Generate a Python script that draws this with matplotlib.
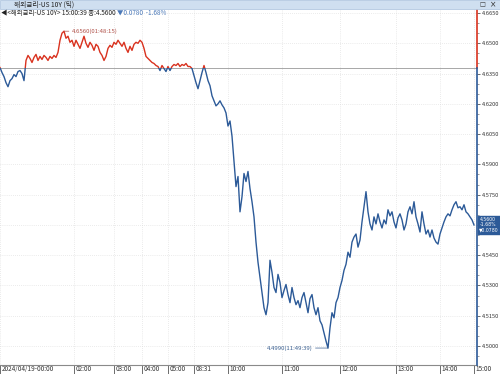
import matplotlib
matplotlib.use("Agg")
import matplotlib.pyplot as plt
from matplotlib.patches import Rectangle
from matplotlib.ticker import MultipleLocator
import matplotlib.transforms as mtransforms

plt.rcParams['font.family'] = ['Noto Sans CJK KR', 'DejaVu Sans']

# ---- data (tick series, evenly spaced samples) ----
prices = [
    4.6380, 4.6355, 4.6335, 4.6305, 4.6285, 4.6315, 4.6325, 4.6345, 4.6335, 4.6360,
    4.6365, 4.6350, 4.6315, 4.6415, 4.6440, 4.6425, 4.6405, 4.6430, 4.6445, 4.6415,
    4.6435, 4.6420, 4.6440, 4.6430, 4.6415, 4.6435, 4.6425, 4.6440, 4.6430, 4.6455,
    4.6515, 4.6550, 4.6560, 4.6525, 4.6535, 4.6505, 4.6515, 4.6485, 4.6515, 4.6495,
    4.6475, 4.6505, 4.6535, 4.6500, 4.6480, 4.6505, 4.6490, 4.6465, 4.6495, 4.6485,
    4.6455, 4.6440, 4.6415, 4.6435, 4.6475, 4.6490, 4.6480, 4.6505, 4.6495, 4.6515,
    4.6500, 4.6485, 4.6505, 4.6475, 4.6455, 4.6485, 4.6465, 4.6495, 4.6505, 4.6500,
    4.6515, 4.6505, 4.6475, 4.6435, 4.6425, 4.6415, 4.6405, 4.6400, 4.6390, 4.6385,
    4.6365, 4.6390, 4.6375, 4.6360, 4.6385, 4.6365, 4.6385, 4.6395, 4.6390, 4.6400,
    4.6385, 4.6395, 4.6390, 4.6400, 4.6385, 4.6385, 4.6375, 4.6340, 4.6305, 4.6275,
    4.6315, 4.6355, 4.6390, 4.6355, 4.6315, 4.6290, 4.6240, 4.6215, 4.6190, 4.6200,
    4.6215, 4.6195, 4.6180, 4.6155, 4.6090, 4.6115, 4.6040, 4.5915, 4.5790, 4.5840,
    4.5665, 4.5740, 4.5855, 4.5815, 4.5865, 4.5780, 4.5715, 4.5640, 4.5515, 4.5415,
    4.5340, 4.5265, 4.5190, 4.5155, 4.5215, 4.5425, 4.5365, 4.5290, 4.5265, 4.5355,
    4.5315, 4.5240, 4.5275, 4.5305, 4.5255, 4.5215, 4.5290, 4.5240, 4.5205, 4.5225,
    4.5190, 4.5240, 4.5265, 4.5215, 4.5165, 4.5235, 4.5255, 4.5190, 4.5155, 4.5190,
    4.5125, 4.5105, 4.5065, 4.5025, 4.4990, 4.5090, 4.5165, 4.5140, 4.5215, 4.5240,
    4.5290, 4.5325, 4.5375, 4.5405, 4.5465, 4.5440, 4.5515, 4.5540, 4.5555, 4.5490,
    4.5525, 4.5615, 4.5690, 4.5765, 4.5665, 4.5605, 4.5575, 4.5640, 4.5605, 4.5655,
    4.5615, 4.5585, 4.5625, 4.5605, 4.5675, 4.5645, 4.5665, 4.5615, 4.5585, 4.5635,
    4.5655, 4.5625, 4.5575, 4.5605, 4.5665, 4.5690, 4.5655, 4.5715, 4.5640, 4.5605,
    4.5565, 4.5665, 4.5605, 4.5555, 4.5575, 4.5540, 4.5575, 4.5535, 4.5515, 4.5505,
    4.5555, 4.5585, 4.5615, 4.5640, 4.5655, 4.5645, 4.5675, 4.5700, 4.5715, 4.5685,
    4.5690, 4.5675, 4.5700, 4.5665, 4.5655, 4.5640, 4.5625, 4.5600,
]
prev_close = 4.6380
last_price = 4.5600
change = -0.0780
change_pct = -1.68
high_label = "4.6560(01:48:15)"
low_label = "4.4990(11:49:39)"

tick_idx = [0, 37, 57, 71, 84, 97, 114, 141, 170, 198, 220, 237]
tick_labels = ["2024/04/19-00:00", "02:00", "03:00", "04:00", "05:00", "08:31",
               "10:00", "11:00", "12:00", "13:00", "14:00", "15:00"]
y_ticks = [4.6650, 4.6500, 4.6350, 4.6200, 4.6050, 4.5900, 4.5750,
           4.5600, 4.5450, 4.5300, 4.5150, 4.5000]

RED = "#d9321f"
BLUE = "#2c5a98"

W, H = 500, 374
fig = plt.figure(figsize=(W / 100, H / 100), dpi=100)
fig.patch.set_facecolor("white")

ax_top, ax_bot, ax_right = 10, 365, 477
ax = fig.add_axes([0.0, 1 - ax_bot / H, ax_right / W, (ax_bot - ax_top) / H])
ax.set_facecolor("white")

ymin, ymax = 4.4906, 4.6665
xmax = 238.5
ax.set_xlim(0, xmax)
ax.set_ylim(ymin, ymax)

xs = list(range(len(prices)))

# line above prev close red, below blue (via clipping)
l_red, = ax.plot(xs, prices, color=RED, lw=1.0, zorder=3)
l_blue, = ax.plot(xs, prices, color=BLUE, lw=1.0, zorder=3)
r_up = Rectangle((0, prev_close), xmax, ymax - prev_close, transform=ax.transData,
                 facecolor="none", edgecolor="none")
r_dn = Rectangle((0, ymin), xmax, prev_close - ymin, transform=ax.transData,
                 facecolor="none", edgecolor="none")
l_red.set_clip_path(r_up)
l_blue.set_clip_path(r_dn)

# previous close dotted line
ax.axhline(prev_close, color="#333333", lw=0.6, ls=(0, (1.2, 1.2)), zorder=2)

# right axis line: red above, blue below
frac = (prev_close - ymin) / (ymax - ymin)
ax.axvline(xmax, ymin=frac, ymax=1, color=RED, lw=1.2, zorder=4, clip_on=False)
ax.axvline(xmax, ymin=0, ymax=frac, color=BLUE, lw=1.2, zorder=4, clip_on=False)

# spines
for s in ["top", "left", "right"]:
    ax.spines[s].set_visible(False)
ax.spines["bottom"].set_color("#8a8a8a")
ax.spines["bottom"].set_linewidth(0.8)

# y axis on the right (the 4.5600 label is hidden behind the last-price box)
ax.yaxis.tick_right()
ax.set_yticks(y_ticks)
ax.set_yticklabels(["" if abs(v - last_price) < 1e-9 else f"{v:.4f}" for v in y_ticks])
ax.yaxis.set_minor_locator(MultipleLocator(0.005))
ax.tick_params(axis="y", which="major", length=2.5, width=0.5, pad=0.8,
               labelsize=4.1, colors="#333333", direction="out")
ax.tick_params(axis="y", which="minor", length=1.5, width=0.4, colors="#555555")

# x axis
ax.set_xticks(tick_idx)
ax.set_xticklabels(tick_labels)
ax.tick_params(axis="x", which="major", length=6.5, width=0.5, pad=-6.3,
               labelsize=4.6, colors="#333333", direction="out")
off = mtransforms.ScaledTranslation(1.5 / 100, 0, fig.dpi_scale_trans)
for lab in ax.get_xticklabels():
    lab.set_horizontalalignment("left")
    lab.set_transform(lab.get_transform() + off)

ax.grid(True, which="major", color="#d8d8d8", lw=0.5, ls=(0, (1, 2)))
ax.set_axisbelow(True)

# high / low annotations
i_hi = prices.index(max(prices))
i_lo = prices.index(min(prices))
ax.annotate(high_label, xy=(i_hi, prices[i_hi]), xytext=(5.5, 0), textcoords="offset points",
            fontsize=4.3, color="#b05048", va="center", ha="left",
            arrowprops=dict(arrowstyle="-", color="#b05048", lw=0.5, shrinkA=0, shrinkB=0))
ax.annotate(low_label, xy=(i_lo, prices[i_lo]), xytext=(-11, 0), textcoords="offset points",
            fontsize=4.3, color="#3a5f90", va="center", ha="right",
            arrowprops=dict(arrowstyle="-", color="#3a5f90", lw=0.5, shrinkA=0, shrinkB=0))

# last price box
trans = mtransforms.blended_transform_factory(ax.transAxes, ax.transData)
ax.text(1.005, last_price, f"{last_price:.4f}\n{change_pct:.2f}%\n▼{abs(change):.4f}",
        transform=trans, fontsize=3.3, color="white", va="center", ha="left",
        linespacing=1.05, family=["DejaVu Sans"],
        bbox=dict(boxstyle="square,pad=0.3", fc=BLUE, ec=BLUE),
        clip_on=False, zorder=6)

# header bar
fig.patches.append(Rectangle((0, 1 - 9 / H), 1, 9 / H, transform=fig.transFigure,
                             facecolor="#cfdff0", edgecolor="#a9c1dc", lw=0.5, zorder=0))
fig.text(14 / W, 1 - 4.5 / H, "해외금리-US 10Y (틱)", fontsize=4.8, color="#222222",
         va="center", ha="left")
fig.text(479 / W, 1 - 4.5 / H, "□", fontsize=4.5, color="#333333", va="center", ha="left",
         family=["DejaVu Sans"])
fig.text(490 / W, 1 - 4.5 / H, "×", fontsize=5.5, color="#333333", va="center", ha="left",
         family=["DejaVu Sans"])

# info line
t1 = fig.text(1 / W, 1 - 13 / H, "◀<해외금리-US 10Y> 15:00:39 종:4.5600 ", fontsize=4.6,
              color="#222222", va="center", ha="left")
fig.canvas.draw()
bb = t1.get_window_extent()
fig.text(bb.x1 / W, 1 - 13 / H, f"▼{abs(change):.4f}  {change_pct:.2f}%", fontsize=4.6,
         color="#4a78b8", va="center", ha="left")

fig.savefig("out.png", dpi=100, facecolor="white")
